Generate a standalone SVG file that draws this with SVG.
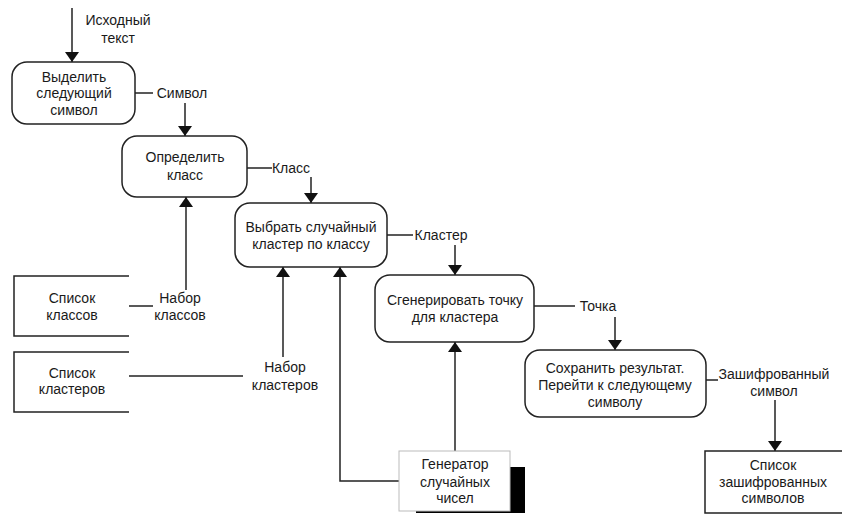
<svg xmlns="http://www.w3.org/2000/svg" width="848" height="515" viewBox="0 0 848 515">
  <defs>
    <marker id="arrow" viewBox="0 0 10 16" refX="10" refY="8" markerWidth="10" markerHeight="16" markerUnits="userSpaceOnUse" orient="auto">
      <path d="M0,1 L10,8 L0,15 Z" fill="#111"/>
    </marker>
    <style>
      text { font-family: "Liberation Sans", Arial, sans-serif; font-size: 14px; fill: #1a1a1a; text-anchor: middle; }
      .proc { fill: #fff; stroke: #222; stroke-width: 1.5; }
      .store { fill: none; stroke: #222; stroke-width: 1.5; }
      .flow { fill: none; stroke: #222; stroke-width: 1.5; }
      .arr { marker-end: url(#arrow); }
    </style>
  </defs>
  <rect width="848" height="515" fill="#fff"/>

  <!-- connectors -->
  <g id="connectors">
    <path class="flow arr" d="M72,8 V62"/>
    <path class="flow" d="M135,93 H153"/>
    <path class="flow arr" d="M185,103 V136"/>
    <path class="flow" d="M247,168 H272"/>
    <path class="flow arr" d="M311,177 V203"/>
    <path class="flow" d="M387,235 H413"/>
    <path class="flow arr" d="M455,245 V275"/>
    <path class="flow" d="M534,306 H575"/>
    <path class="flow arr" d="M615,317 V350"/>
    <path class="flow" d="M706,380 H718"/>
    <path class="flow arr" d="M775,400 V451"/>
    <!-- Набор классов -->
    <path class="flow" d="M129,306 H153"/>
    <path class="flow arr" d="M186,290 V197"/>
    <!-- Набор кластеров -->
    <path class="flow" d="M129,376 H243"/>
    <path class="flow arr" d="M283,357 V267"/>
    <!-- random generator -->
    <path class="flow arr" d="M399,481 H340 V267"/>
    <path class="flow arr" d="M455,451 V342"/>
  </g>

  <!-- flow labels -->
  <g id="labels">
    <text x="118" y="25">Исходный</text>
    <text x="118" y="43">текст</text>
    <text x="182" y="98">Символ</text>
    <text x="291" y="173">Класс</text>
    <text x="441" y="240">Кластер</text>
    <text x="598" y="311">Точка</text>
    <text x="180" y="303">Набор</text>
    <text x="180" y="320">классов</text>
    <text x="285" y="372">Набор</text>
    <text x="285" y="390">кластеров</text>
    <text x="774" y="379">Зашифрованный</text>
    <text x="774" y="396">символ</text>
  </g>

  <g id="select-symbol">
    <rect class="proc" x="12" y="62" width="123" height="62" rx="15"/>
    <text x="74" y="82">Выделить</text>
    <text x="74" y="98">следующий</text>
    <text x="74" y="115">символ</text>
  </g>

  <g id="determine-class">
    <rect class="proc" x="122" y="136" width="125" height="61" rx="15"/>
    <text x="185" y="162">Определить</text>
    <text x="185" y="180">класс</text>
  </g>

  <g id="choose-cluster">
    <rect class="proc" x="235" y="203" width="152" height="64" rx="15"/>
    <text x="311" y="232">Выбрать случайный</text>
    <text x="311" y="249">кластер по классу</text>
  </g>

  <g id="generate-point">
    <rect class="proc" x="375" y="275" width="159" height="67" rx="15"/>
    <text x="455" y="305">Сгенерировать точку</text>
    <text x="455" y="322">для кластера</text>
  </g>

  <g id="save-result">
    <rect class="proc" x="525" y="350" width="181" height="67" rx="15"/>
    <text x="615" y="373">Сохранить результат.</text>
    <text x="615" y="390">Перейти к следующему</text>
    <text x="615" y="407">символу</text>
  </g>

  <g id="class-list">
    <path class="store" d="M129,276 H14 V336 H129"/>
    <text x="72" y="303">Список</text>
    <text x="72" y="320">классов</text>
  </g>

  <g id="cluster-list">
    <path class="store" d="M129,352 H14 V412 H129"/>
    <text x="72" y="378">Список</text>
    <text x="72" y="394">кластеров</text>
  </g>

  <g id="encrypted-list">
    <path class="store" d="M842,451 H705 V513 H842"/>
    <text x="773" y="470">Список</text>
    <text x="773" y="487">зашифрованных</text>
    <text x="773" y="503">символов</text>
  </g>

  <g id="random-generator">
    <rect x="416" y="467" width="109" height="46" fill="#000"/>
    <rect x="399" y="451" width="111" height="60" fill="#fff" stroke="#bbb" stroke-width="1"/>
    <text x="455" y="469">Генератор</text>
    <text x="455" y="487">случайных</text>
    <text x="455" y="503">чисел</text>
  </g>
</svg>
